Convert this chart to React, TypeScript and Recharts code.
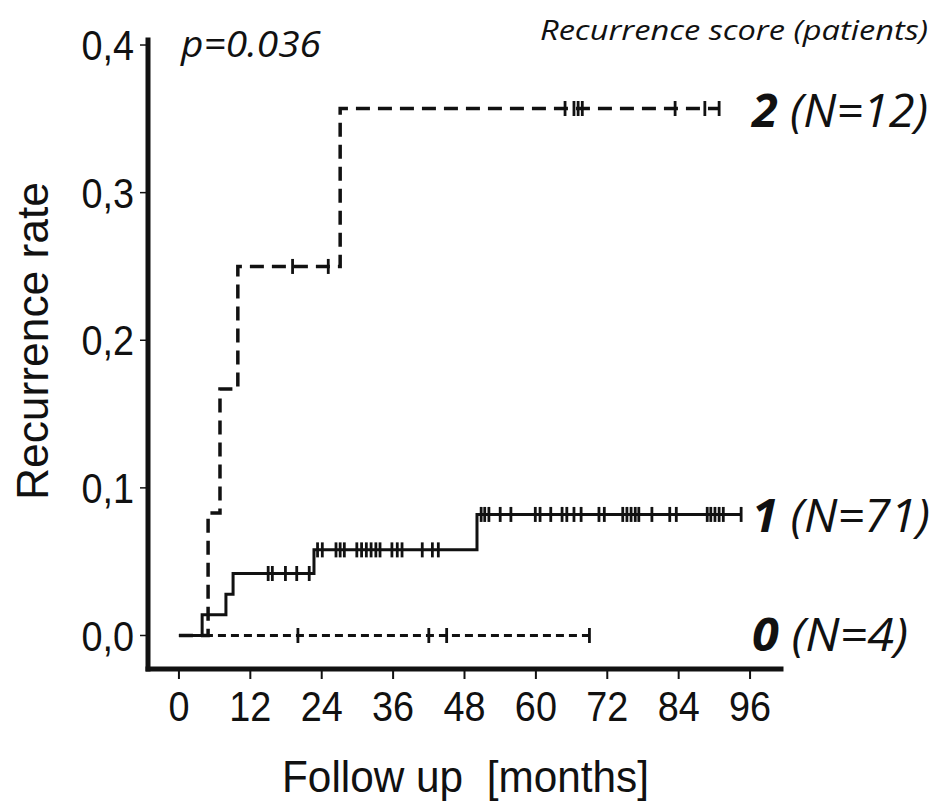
import React from 'react';
import { LineChart, Line, XAxis, YAxis } from 'recharts';

const monthTicks = [0, 12, 24, 36, 48, 60, 72, 84, 96];
const rateTicks = [0, 0.1, 0.2, 0.3, 0.4];

// score 2 (N=12): step start months, rate at each step, censored months on each step
const stepMonths2 = [0, 4.9, 6.9, 9.9, 27.1];
const stepRates2 = [0, 0.083, 0.167, 0.25, 0.357];
const censored2 = [[], [], [], [19.1, 25.1], [64.9, 66.4, 67.1, 67.8, 83.4, 88.4, 90.8]];

// score 1 (N=71)
const stepMonths1 = [0, 3.9, 7.9, 9.1, 22.7, 50.1];
const stepRates1 = [0, 0.014, 0.028, 0.042, 0.058, 0.082];
const censored1 = [
  [],
  [],
  [],
  [15.0, 15.7, 17.9, 19.8, 21.9],
  [23.3, 24.1, 26.4, 27.1, 27.8, 29.9, 30.7, 31.5, 32.3, 33.1, 33.8, 35.8, 36.7, 37.5, 40.9, 42.6, 43.6],
  [50.8, 51.4, 52.1, 54.0, 55.8, 59.9, 60.7, 62.5, 64.4, 65.2, 66.4, 67.6, 70.6, 71.5, 74.6, 75.3, 76.0, 76.7, 77.3, 79.5, 82.5, 83.6, 88.8, 89.4, 90.1, 90.8, 91.5, 94.5],
];

// score 0 (N=4)
const stepMonths0 = [0];
const stepRates0 = [0];
const censored0 = [[20.0, 42.0, 45.0, 69.0]];

type Row = { month: number; rate: number; censored: boolean };

function buildCurve(months: number[], rates: number[], censored: number[][]): Row[] {
  const rows: Row[] = [];
  months.forEach((m, i) => {
    rows.push({ month: m, rate: rates[i], censored: false });
    censored[i].forEach((c) => rows.push({ month: c, rate: rates[i], censored: true }));
  });
  return rows;
}

const curve2 = buildCurve(stepMonths2, stepRates2, censored2);
const curve1 = buildCurve(stepMonths1, stepRates1, censored1);
const curve0 = buildCurve(stepMonths0, stepRates0, censored0);

const tickFont = '"Liberation Sans", Arial, sans-serif';
const labelFont = '"Open Sans", "Noto Sans", sans-serif';

const censorTick = (props: any) => {
  const { cx, cy, payload, index } = props;
  if (!payload || !payload.censored) return <g key={`n-${index}`} />;
  return <line key={`c-${index}`} x1={cx} x2={cx} y1={cy - 7.5} y2={cy + 7.5} stroke="#111" strokeWidth={2.8} />;
};

const XTick = (props: any) => {
  const { x, y, payload } = props;
  return (
    <g transform={`translate(${x},${y})`}>
      <text transform="scale(0.9,1)" textAnchor="middle" y={42} fontSize={42} fontFamily={tickFont} fill="#111">
        {payload.value}
      </text>
    </g>
  );
};

const YTick = (props: any) => {
  const { x, y, payload } = props;
  return (
    <g transform={`translate(${x},${y})`}>
      <text transform="scale(0.9,1)" textAnchor="end" y={15} fontSize={42} fontFamily={tickFont} fill="#111">
        {payload.value.toFixed(1).replace('.', ',')}
      </text>
    </g>
  );
};

export default function App() {
  return (
    <div style={{ position: 'relative', width: 938, height: 807, background: '#fff' }}>
      <style>{'body{margin:0}'}</style>
      <LineChart width={938} height={807} margin={{ top: 40, right: 157, bottom: 78, left: 78 }}>
        <XAxis
          dataKey="month"
          type="number"
          domain={[-5.2, 101.2]}
          ticks={monthTicks}
          allowDataOverflow
          height={60}
          axisLine={{ stroke: '#111', strokeWidth: 5, strokeLinecap: 'square' }}
          tickLine={{ stroke: '#111', strokeWidth: 2 }}
          tickSize={10}
          tickMargin={0}
          tick={<XTick />}
        />
        <YAxis
          type="number"
          domain={[-0.0227, 0.4034]}
          ticks={rateTicks}
          allowDataOverflow
          width={70}
          axisLine={{ stroke: '#111', strokeWidth: 5, strokeLinecap: 'square' }}
          tickLine={{ stroke: '#111', strokeWidth: 1.5 }}
          tickSize={8}
          tickMargin={6}
          tick={<YTick />}
        />
        <Line
          data={curve0}
          dataKey="rate"
          type="stepAfter"
          stroke="#111"
          strokeWidth={3}
          strokeDasharray="8 5"
          dot={censorTick}
          activeDot={false}
          isAnimationActive={false}
        />
        <Line
          data={curve1}
          dataKey="rate"
          type="stepAfter"
          stroke="#111"
          strokeWidth={3}
          dot={censorTick}
          activeDot={false}
          isAnimationActive={false}
        />
        <Line
          data={curve2}
          dataKey="rate"
          type="stepAfter"
          stroke="#111"
          strokeWidth={3.5}
          strokeDasharray="14 8"
          dot={censorTick}
          activeDot={false}
          isAnimationActive={false}
        />
      </LineChart>
      <svg width={938} height={807} style={{ position: 'absolute', left: 0, top: 0, pointerEvents: 'none' }}>
        <text x={181} y={57} fontSize={37} fontStyle="italic" fontFamily={labelFont} fill="#111" textLength={140} lengthAdjust="spacingAndGlyphs">
          p=0.036
        </text>
        <text x={540} y={40} fontSize={28} fontStyle="italic" fontFamily={labelFont} fill="#111" textLength={388} lengthAdjust="spacingAndGlyphs">
          Recurrence score (patients)
        </text>
        <text x={752} y={127} fontSize={46} fontStyle="italic" fontFamily={labelFont} fill="#111" textLength={176} lengthAdjust="spacingAndGlyphs">
          <tspan fontWeight="bold">2</tspan> (N=12)
        </text>
        <text x={752} y={532} fontSize={46} fontStyle="italic" fontFamily={labelFont} fill="#111" textLength={178} lengthAdjust="spacingAndGlyphs">
          <tspan fontWeight="bold">1</tspan> (N=71)
        </text>
        <text x={752} y={651} fontSize={46} fontStyle="italic" fontFamily={labelFont} fill="#111" textLength={156} lengthAdjust="spacingAndGlyphs">
          <tspan fontWeight="bold">0</tspan> (N=4)
        </text>
        <text
          transform="translate(48,341) rotate(-90)"
          textAnchor="middle"
          fontSize={45}
          fontFamily={tickFont}
          fill="#111"
          textLength={318}
          lengthAdjust="spacingAndGlyphs"
        >
          Recurrence rate
        </text>
        <text
          x={282}
          y={792}
          fontSize={44}
          fontFamily={tickFont}
          fill="#111"
          textLength={367}
          lengthAdjust="spacingAndGlyphs"
          xmlSpace="preserve"
        >
          Follow up  [months]
        </text>
      </svg>
    </div>
  );
}
